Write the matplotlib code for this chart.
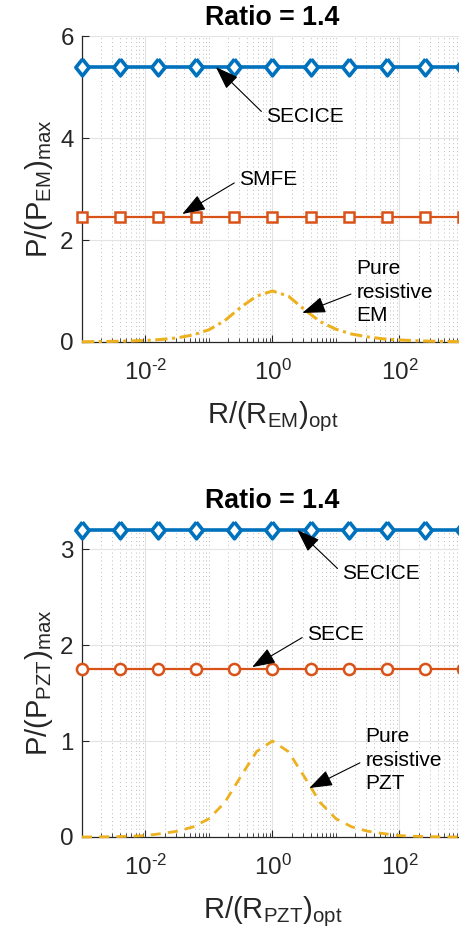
import numpy as np
import matplotlib
matplotlib.use('Agg')
import matplotlib.pyplot as plt
from matplotlib.ticker import FixedLocator, LogLocator, NullFormatter

plt.rcParams['font.family'] = ['Liberation Sans', 'DejaVu Sans']
plt.rcParams['mathtext.fontset'] = 'custom'
plt.rcParams['mathtext.rm'] = 'Liberation Sans'
plt.rcParams['mathtext.it'] = 'Liberation Sans:italic'
plt.rcParams['mathtext.bf'] = 'Liberation Sans:bold'

# marker positions (log10 of R/Ropt)
marker_exp = [-3.0, -2.4, -1.8, -1.2, -0.6, 0.0, 0.6, 1.2, 1.8, 2.4, 3.0]

# top panel: electromagnetic
em_secice = 5.39
em_smfe = 2.45
# bottom panel: piezoelectric
pzt_secice = 3.2
pzt_sece = 1.75

# pure resistive curves
curve_exp = [-3.0, -2.75, -2.5, -2.25, -2.0, -1.75, -1.5, -1.25, -1.0, -0.75, -0.5, -0.25, 0.0,
             0.25, 0.5, 0.75, 1.0, 1.25, 1.5, 1.75, 2.0, 2.25, 2.5, 2.75, 3.0]
em_resistive = [0.004, 0.008, 0.012, 0.02, 0.03, 0.05, 0.08, 0.14, 0.24, 0.42, 0.68, 0.9, 1.0,
                0.9, 0.64, 0.4, 0.25, 0.155, 0.1, 0.06, 0.04, 0.025, 0.015, 0.009, 0.005]
pzt_resistive = [0.0, 0.001, 0.003, 0.007, 0.015, 0.035, 0.06, 0.105, 0.19, 0.36, 0.63, 0.89, 1.0,
                 0.89, 0.63, 0.36, 0.19, 0.105, 0.06, 0.035, 0.015, 0.007, 0.003, 0.001, 0.0]

xtick_labels = ['10$^{\u2010 2}$', '10$^{0}$', '10$^{2}$']

blue = '#0072BD'
orange = '#D95319'
yellow = '#EDB120'
dark = '#262626'
diamond = [(0, 1), (0.8, 0), (0, -1), (-0.8, 0), (0, 1)]

xm = 10.0 ** np.array(marker_exp)
xc = 10.0 ** np.array(curve_exp)

fig = plt.figure(figsize=(4.59, 9.38), dpi=100)
ax1 = fig.add_axes([0.1786, 0.6354, 0.830, 0.3262])
ax2 = fig.add_axes([0.1786, 0.1077, 0.830, 0.3294])


def style_axes(ax, ymax, yticks):
    ax.set_xscale('log')
    ax.set_xlim(1e-3, 1e3)
    ax.set_ylim(0, ymax)
    ax.set_yticks(yticks)
    ax.xaxis.set_major_locator(FixedLocator([1e-2, 1e0, 1e2]))
    ax.set_xticklabels(xtick_labels)
    ax.xaxis.set_minor_locator(LogLocator(base=10, subs=np.arange(1, 10), numticks=50))
    ax.xaxis.set_minor_formatter(NullFormatter())
    ax.tick_params(which='major', direction='in', length=5, width=0.8, color=dark,
                   labelsize=17.4, labelcolor=dark)
    ax.tick_params(axis='x', which='major', pad=13)
    ax.tick_params(axis='y', which='major', pad=6)
    ax.tick_params(which='minor', direction='in', length=3, width=0.6, color=dark)
    ax.tick_params(axis='y', which='minor', left=False)
    for s in ['top', 'right']:
        ax.spines[s].set_visible(False)
    for s in ['left', 'bottom']:
        ax.spines[s].set_color(dark)
        ax.spines[s].set_linewidth(0.9)
    ax.grid(True, which='major', color='#e3e3e3', lw=0.8, ls='-')
    ax.grid(True, which='minor', axis='x', color='#bdbdbd', lw=0.7, ls=(0, (1, 3)))
    ax.set_axisbelow(True)


style_axes(ax1, 6, [0, 2, 4, 6])
style_axes(ax2, 3.22, [0, 1, 2, 3])

# top panel
ax1.plot(xc, em_resistive, color=yellow, lw=2.2, dashes=(4, 1.5, 1, 1.5), clip_on=False, zorder=3)
ax1.plot(xm, [em_smfe] * len(xm), color=orange, lw=1.6, marker='s', ms=7,
         mfc='white', mec=orange, mew=1.8, clip_on=False, zorder=4)
ax1.plot(xm, [em_secice] * len(xm), color=blue, lw=2.6, marker=diamond, ms=12,
         mfc='white', mec=blue, mew=2.6, clip_on=False, zorder=5)

# bottom panel
ax2.plot(xc, pzt_resistive, color=yellow, lw=2.0, dashes=(3.6, 2.6), clip_on=False, zorder=3)
ax2.plot(xm, [pzt_sece] * len(xm), color=orange, lw=1.6, marker='o', ms=8,
         mfc='white', mec=orange, mew=1.8, clip_on=False, zorder=4)
ax2.plot(xm, [pzt_secice] * len(xm), color=blue, lw=2.6, marker=diamond, ms=12,
         mfc='white', mec=blue, mew=2.6, clip_on=False, zorder=5)

arrow = dict(arrowstyle='-|>,head_length=0.9,head_width=0.32', color='k', lw=0.8,
             mutation_scale=16, relpos=(0, 0.5), shrinkA=2, shrinkB=0)


def note(ax, label, tip, text):
    ax.annotate(label, xy=tip, xytext=text, textcoords='data', ha='left', va='center',
                fontsize=15, linespacing=1.3, arrowprops=arrow, zorder=6)


note(ax1, 'SECICE', (10 ** -0.89, em_secice), (10 ** -0.10, 4.43))
note(ax1, 'SMFE', (10 ** -1.42, 2.51), (10 ** -0.52, 3.18))
note(ax1, 'Pure\nresistive\nEM', (10 ** 0.47, 0.57), (10 ** 1.32, 0.98))

note(ax2, 'SECICE', (10 ** 0.39, pzt_secice), (10 ** 1.10, 2.75))
note(ax2, 'SECE', (10 ** -0.32, 1.77), (10 ** 0.55, 2.11))
note(ax2, 'Pure\nresistive\nPZT', (10 ** 0.58, 0.51), (10 ** 1.46, 0.80))

ax1.set_title('Ratio = 1.4', fontsize=19.3, fontweight='bold', pad=8)
ax2.set_title('Ratio = 1.4', fontsize=19.3, fontweight='bold', pad=14.5)

ax1.set_ylabel(r'P/(P$_{\mathrm{EM}}$)$_{\mathrm{max}}$', fontsize=21, color=dark, labelpad=4)
ax1.set_xlabel(r'R/(R$_{\mathrm{EM}}$)$_{\mathrm{opt}}$', fontsize=21, color=dark, labelpad=10)
ax2.set_ylabel(r'P/(P$_{\mathrm{PZT}}$)$_{\mathrm{max}}$', fontsize=21, color=dark, labelpad=4)
ax2.set_xlabel(r'R/(R$_{\mathrm{PZT}}$)$_{\mathrm{opt}}$', fontsize=21, color=dark, labelpad=10)

fig.savefig('out.png', dpi=100)
